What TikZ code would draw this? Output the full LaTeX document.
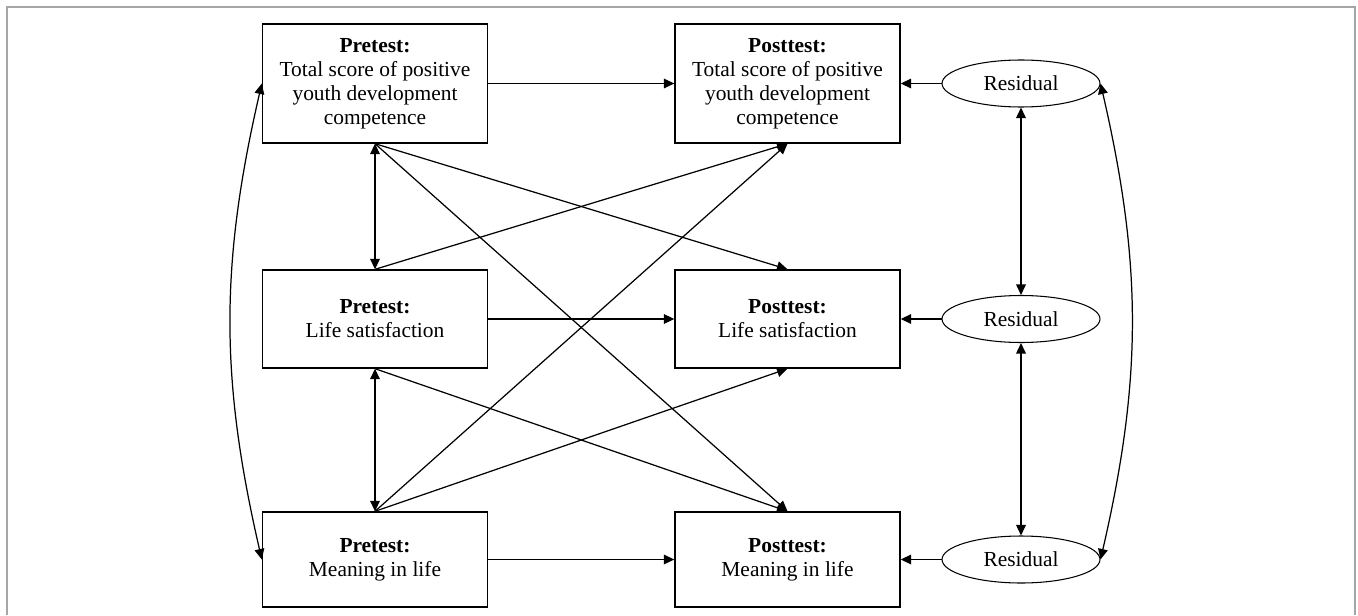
\documentclass[tikz,border=0pt]{standalone}
\usepackage{fontspec}
\setmainfont{Liberation Serif}
\usepackage{xcolor}
\usetikzlibrary{
    shapes.geometric,
    arrows.meta,
    positioning
}

\begin{document}
\begin{tikzpicture}[
        x=0.02cm, y=0.02cm,
        var/.style={draw, line width=0.8pt, minimum width=4.5cm, align=center,
            font=\fontsize{12.2}{13.6}\selectfont, inner sep=2pt},
        resid/.style={draw, ellipse, line width=0.6pt, minimum width=3.16cm,
            minimum height=0.94cm, inner sep=0pt, font=\fontsize{12.2}{13.6}\selectfont},
        path/.style={line width=0.7pt, -{Triangle[length=6pt, width=5.5pt]}},
        cov/.style={line width=0.7pt, {Triangle[length=6pt, width=5.5pt]}-{Triangle[length=6pt, width=5.5pt]}}
    ]
        \useasboundingbox (0,0) rectangle (1358,-615);

        % Frame
        \draw[gray!70, line width=0.8pt] (7,-615) -- (7,-7) -- (1355,-7) -- (1355,-615);

        % Pretest
        \node[var, minimum height=2.38cm] (pre1) at (375,-83.5)
            {\textbf{Pretest:}\\Total score of positive\\youth development\\competence};
        \node[var, minimum height=1.96cm] (pre2) at (375,-319)
            {\textbf{Pretest:}\\Life satisfaction};
        \node[var, minimum height=1.9cm] (pre3) at (375,-559.5)
            {\textbf{Pretest:}\\Meaning in life};

        % Posttest
        \node[var, minimum height=2.38cm] (post1) at (787.5,-83.5)
            {\textbf{Posttest:}\\Total score of positive\\youth development\\competence};
        \node[var, minimum height=1.96cm] (post2) at (787.5,-319)
            {\textbf{Posttest:}\\Life satisfaction};
        \node[var, minimum height=1.9cm] (post3) at (787.5,-559.5)
            {\textbf{Posttest:}\\Meaning in life};

        % Residuals
        \node[resid] (res1) at (1021,-83.5) {Residual};
        \node[resid] (res2) at (1021,-319) {Residual};
        \node[resid] (res3) at (1021,-559.5) {Residual};

        % Stability paths
        \draw[path] (pre1) -- (post1);
        \draw[path] (pre2) -- (post2);
        \draw[path] (pre3) -- (post3);

        % Cross-lagged paths
        \draw[path] (pre1.south) -- (post2.north);
        \draw[path] (pre1.south) -- (post3.north);
        \draw[path] (pre2.north) -- (post1.south);
        \draw[path] (pre2.south) -- (post3.north);
        \draw[path] (pre3.north) -- (post1.south);
        \draw[path] (pre3.north) -- (post2.south);

        % Residual paths
        \draw[path] (res1) -- (post1);
        \draw[path] (res2) -- (post2);
        \draw[path] (res3) -- (post3);

        % Covariances
        \draw[cov] (pre1) -- (pre2);
        \draw[cov] (pre2) -- (pre3);
        \draw[cov] (pre1.west) to[out=257, in=103] (pre3.west);
        \draw[cov] (res1) -- (res2);
        \draw[cov] (res2) -- (res3);
        \draw[cov] (res1.east) to[out=-77, in=77] (res3.east);
    \end{tikzpicture}
\end{document}
